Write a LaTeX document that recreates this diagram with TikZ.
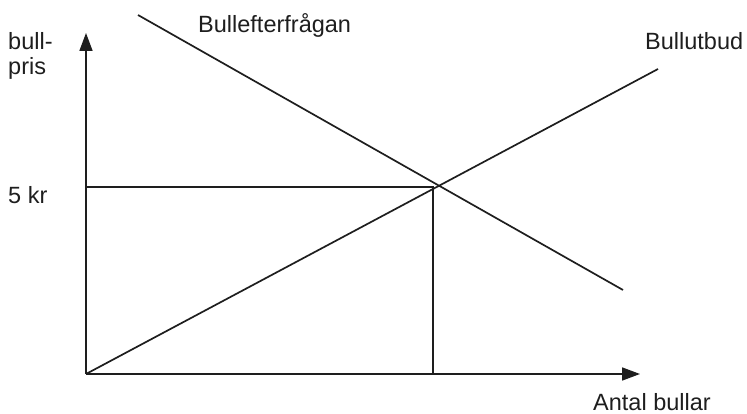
\documentclass[tikz,border=0pt]{standalone}
\usepackage{fontspec}
\setmainfont{Liberation Sans}
\usepackage{tikz}
\usetikzlibrary{positioning,calc,arrows.meta}
\definecolor{curveink}{RGB}{30,30,30}

\begin{document}
\begin{tikzpicture}[x=1pt,y=-1pt,
  ax/.style={-{Triangle[length=18pt,width=13pt]},line width=1.6pt,color=curveink},
  ln/.style={line width=1.7pt,color=curveink},
  thin/.style={line width=1.3pt,color=curveink},
  lbl/.style={font=\fontsize{23.5}{25}\selectfont,color=curveink,inner sep=0pt,anchor=base west,align=left}]
  \useasboundingbox (0,0) rectangle (747,414);
  \coordinate (orig) at (86,374);
  \coordinate (ytip) at (86,33);
  \coordinate (xtip) at (640,374);
  \coordinate (dstart) at (138,15);
  \coordinate (dend)   at (623,290);
  \coordinate (send)   at (658,69);
  \coordinate (eq)     at (434,187);
  \coordinate (eqx)    at (433,374);
  \coordinate (eqy)    at (86,187);
  \draw[ax] (orig) -- (ytip);
  \draw[ax] (orig) -- (xtip);
  \draw[ln] (dstart) -- (dend);
  \draw[ln] (orig) -- (send);
  \draw[thin] (eqy) -- (eq);
  \draw[thin] (eqx) -- (eqx |- eq);
  \node[lbl] (pris)   at (8,75)    {bull-\\pris};
  \node[lbl] (fem)    at (8,204)   {5 kr};
  \node[lbl] (efter)  at (198,33)  {Bullefterfrågan};
  \node[lbl] (utbud)  at (645,50)  {Bullutbud};
  \node[lbl] (antal)  at (593,410) {Antal bullar};
\end{tikzpicture}
\end{document}
